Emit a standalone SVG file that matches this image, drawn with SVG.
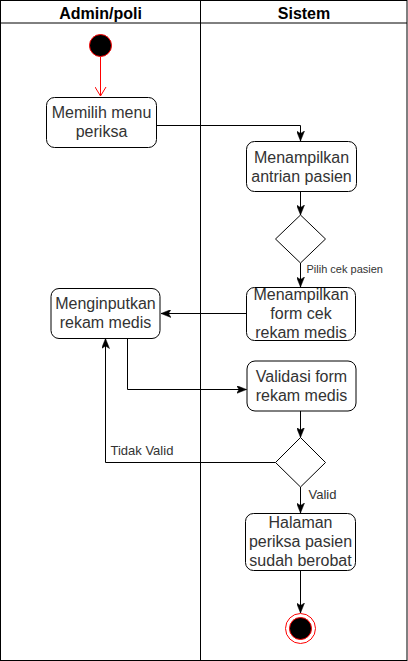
<svg xmlns="http://www.w3.org/2000/svg" width="408" height="661" viewBox="0 0 408 661">
<defs>
<style>
.lane{fill:none;stroke:#000;stroke-width:1}
.hdr{font-family:"Liberation Sans",Arial,sans-serif;font-size:16px;font-weight:bold;fill:#000;text-anchor:middle}
.node{fill:#fff;stroke:#000;stroke-width:1}
.txt{font-family:"Liberation Sans",Arial,sans-serif;font-size:16px;fill:#333;text-anchor:middle}
.lbl{font-family:"Liberation Sans",Arial,sans-serif;font-size:13px;fill:#333}
.lbls{font-family:"Liberation Sans",Arial,sans-serif;font-size:11px;fill:#333}
.edge{fill:none;stroke:#000;stroke-width:1}
</style>
<marker id="arr" markerUnits="userSpaceOnUse" viewBox="0 0 10 8" refX="10" refY="4" markerWidth="10" markerHeight="8" orient="auto">
<path d="M0,0 L10,4 L0,8 L2.5,4 Z" fill="#000" stroke="#000" stroke-width="0.5"/>
</marker>
<marker id="openRed" markerUnits="userSpaceOnUse" viewBox="0 0 10 12" refX="9" refY="6" markerWidth="10" markerHeight="12" orient="auto">
<path d="M0,0.5 L9,6 L0,11.5" fill="none" stroke="#ff0000" stroke-width="1"/>
</marker>
</defs>
<rect x="0" y="0" width="408" height="661" fill="#fff"/>
<g id="lanes">
<rect class="lane" x="0.5" y="0.5" width="406.5" height="660"/>
<line class="lane" x1="0.5" y1="23" x2="407" y2="23"/>
<line class="lane" x1="200.5" y1="0.5" x2="200.5" y2="660.5"/>
<text class="hdr" x="100.5" y="19">Admin/poli</text>
<text class="hdr" x="304" y="19">Sistem</text>
</g>
<g id="connectors">
<path d="M100.5,57 L100.5,96" fill="none" stroke="#ff0000" stroke-width="1" marker-end="url(#openRed)"/>
<path class="edge" d="M157,125.5 L300.5,125.5 L300.5,141" marker-end="url(#arr)"/>
<path class="edge" d="M300.5,191 L300.5,215" marker-end="url(#arr)"/>
<path class="edge" d="M300.5,263 L300.5,287" marker-end="url(#arr)"/>
<path class="edge" d="M246,313.5 L161,313.5" marker-end="url(#arr)"/>
<path class="edge" d="M127.5,338 L127.5,389.5 L246.5,389.5" marker-end="url(#arr)"/>
<path class="edge" d="M300.5,411 L300.5,437.5" marker-end="url(#arr)"/>
<path class="edge" d="M275.5,462.5 L105.5,462.5 L105.5,338.5" marker-end="url(#arr)"/>
<path class="edge" d="M300.5,487 L300.5,513" marker-end="url(#arr)"/>
<path class="edge" d="M300.5,571 L300.5,613" marker-end="url(#arr)"/>
<text class="lbls" x="306.5" y="273">Pilih cek pasien</text>
<text class="lbl" x="110.5" y="455">Tidak Valid</text>
<text class="lbl" x="308.5" y="499">Valid</text>
</g>
<g id="start">
<circle cx="100.5" cy="45.5" r="11" fill="#000" stroke="#ff0000" stroke-width="1"/>
</g>
<g id="memilih">
<rect class="node" x="46.5" y="97.5" width="110" height="50" rx="8"/>
<text class="txt" x="101.5" y="118">Memilih menu</text>
<text class="txt" x="101.5" y="137">periksa</text>
</g>
<g id="antrian">
<rect class="node" x="246.5" y="141.5" width="110" height="50" rx="8"/>
<text class="txt" x="301.5" y="163">Menampilkan</text>
<text class="txt" x="301.5" y="182">antrian pasien</text>
</g>
<g id="decision1">
<polygon class="node" points="300.5,215 325.5,239 300.5,263 275.5,239"/>
</g>
<g id="formcek">
<rect class="node" x="246.5" y="287.5" width="109" height="53" rx="8"/>
<text class="txt" x="301" y="300">Menampilkan</text>
<text class="txt" x="301" y="319">form cek</text>
<text class="txt" x="301" y="338">rekam medis</text>
</g>
<g id="menginput">
<rect class="node" x="51" y="288.5" width="109" height="50" rx="8"/>
<text class="txt" x="105.5" y="309">Menginputkan</text>
<text class="txt" x="105.5" y="328">rekam medis</text>
</g>
<g id="validasi">
<rect class="node" x="247" y="361" width="109" height="50" rx="8"/>
<text class="txt" x="301.5" y="382">Validasi form</text>
<text class="txt" x="301.5" y="401">rekam medis</text>
</g>
<g id="decision2">
<polygon class="node" points="300.5,437.5 325.5,462.5 300.5,487 275.5,462.5"/>
</g>
<g id="halaman">
<rect class="node" x="245.5" y="513.5" width="110" height="57" rx="8"/>
<text class="txt" x="300.5" y="528">Halaman</text>
<text class="txt" x="300.5" y="547">periksa pasien</text>
<text class="txt" x="300.5" y="566">sudah berobat</text>
</g>
<g id="end">
<circle cx="300.5" cy="628.5" r="15" fill="#fff" stroke="#ff0000" stroke-width="1"/>
<circle cx="300.5" cy="628.5" r="11" fill="#000" stroke="#ff0000" stroke-width="1"/>
</g>
</svg>
